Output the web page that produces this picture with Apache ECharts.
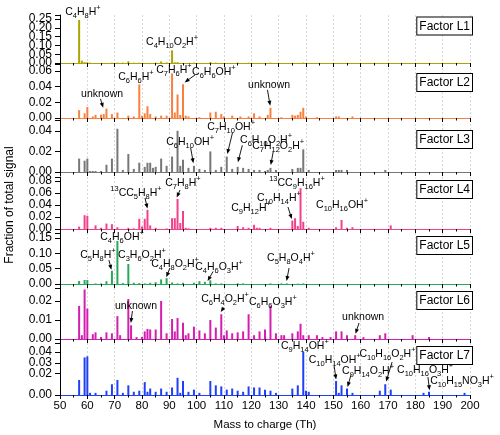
<!DOCTYPE html>
<html><head><meta charset="utf-8">
<script src="https://cdn.jsdelivr.net/npm/echarts@6/dist/echarts.min.js"></script>
<style>html,body{margin:0;padding:0;background:#fff}#c{width:500px;height:435px}</style>
</head><body><div id="c"></div>
<script>
// ---- data: [mass-to-charge, fraction of total signal] ----
const factorNames = ['Factor L1','Factor L2','Factor L3','Factor L4','Factor L5','Factor L6','Factor L7'];
const L1 = [[57,0.245],[58,0.013],[59,0.005],[60,0.004],[61,0.002],[69,0.002],[71,0.002],[73,0.002],[75,0.010],[77,0.002],[79,0.002],[85,0.002],[87,0.009],[89,0.003],[91,0.072],[92,0.004],[93,0.005],[99,0.002],[105,0.005],[107,0.002],[115,0.002],[119,0.002],[127,0.002],[139,0.002]];
const L2 = [[57,0.010],[59,0.006],[60,0.014],[62,0.002],[63,0.004],[65,0.004],[66,0.005],[67,0.012],[69,0.005],[71,0.007],[75,0.003],[77,0.002],[79,0.043],[80,0.003],[81,0.006],[82,0.015],[83,0.005],[85,0.002],[87,0.003],[89,0.003],[91,0.057],[92,0.007],[93,0.030],[94,0.004],[95,0.043],[96,0.003],[97,0.002],[101,0.001],[105,0.007],[107,0.008],[109,0.005],[110,0.002],[113,0.003],[116,0.002],[119,0.002],[121,0.006],[123,0.002],[126,0.004],[127,0.013],[131,0.001],[135,0.004],[136,0.003],[137,0.004],[138,0.008],[139,0.013],[140,0.002],[144,0.001],[151,0.002],[152,0.002],[157,0.002]];
const L3 = [[57,0.013],[59,0.011],[60,0.013],[61,0.001],[62,0.001],[63,0.001],[65,0.001],[67,0.007],[69,0.013],[71,0.042],[73,0.002],[75,0.0175],[77,0.003],[79,0.009],[81,0.005],[82,0.009],[83,0.009],[84,0.004],[85,0.005],[87,0.013],[89,0.006],[91,0.015],[93,0.040],[94,0.006],[95,0.012],[97,0.004],[99,0.006],[101,0.003],[103,0.002],[105,0.020],[107,0.002],[109,0.005],[111,0.015],[113,0.003],[115,0.005],[117,0.004],[119,0.003],[121,0.002],[123,0.002],[125,0.001],[126,0.002],[127,0.004],[129,0.002],[135,0.003],[137,0.004],[138,0.004],[139,0.022],[141,0.002],[151,0.002],[152,0.002],[153,0.002],[155,0.002],[169,0.002]];
const L4 = [[57,0.004],[59,0.023],[60,0.022],[63,0.006],[65,0.002],[67,0.009],[69,0.008],[71,0.003],[75,0.002],[77,0.001],[79,0.017],[80,0.004],[81,0.017],[82,0.032],[83,0.006],[85,0.002],[89,0.001],[91,0.018],[92,0.018],[93,0.050],[94,0.010],[95,0.030],[96,0.002],[97,0.001],[105,0.002],[107,0.002],[109,0.002],[115,0.005],[117,0.003],[119,0.002],[121,0.007],[122,0.002],[123,0.002],[127,0.002],[135,0.014],[136,0.018],[137,0.005],[138,0.068],[139,0.012],[141,0.002],[151,0.003],[153,0.015],[155,0.002],[157,0.003],[171,0.006]];
const L5 = [[57,0.010],[59,0.013],[60,0.013],[63,0.002],[65,0.002],[67,0.009],[69,0.043],[71,0.140],[73,0.003],[75,0.065],[77,0.004],[79,0.003],[81,0.002],[83,0.004],[85,0.006],[87,0.015],[89,0.019],[91,0.005],[93,0.002],[95,0.004],[99,0.004],[101,0.009],[103,0.007],[105,0.012],[107,0.002],[109,0.002],[115,0.002],[117,0.002],[127,0.002],[131,0.002],[133,0.002],[137,0.001],[139,0.002]];
const L6 = [[57,0.0174],[58,0.002],[59,0.026],[60,0.016],[62,0.0025],[63,0.0035],[65,0.001],[67,0.0035],[69,0.003],[71,0.012],[72,0.002],[75,0.021],[76,0.0072],[78,0.001],[80,0.001],[81,0.004],[82,0.0053],[83,0.005],[85,0.005],[87,0.020],[89,0.003],[91,0.0105],[92,0.004],[93,0.011],[95,0.0085],[96,0.002],[97,0.003],[99,0.0065],[101,0.0045],[103,0.003],[105,0.010],[107,0.006],[109,0.013],[110,0.002],[111,0.0045],[113,0.003],[115,0.0035],[117,0.004],[119,0.013],[121,0.002],[123,0.004],[125,0.005],[127,0.0175],[129,0.003],[131,0.002],[132,0.002],[135,0.003],[137,0.004],[138,0.008],[139,0.002],[141,0.002],[144,0.002],[146,0.001],[149,0.001],[151,0.004],[153,0.004],[155,0.002],[158,0.002],[161,0.001],[167,0.002],[169,0.003],[179,0.002],[185,0.001]];
const L7 = [[57,0.014],[59,0.035],[60,0.036],[61,0.002],[63,0.002],[67,0.004],[69,0.010],[71,0.014],[73,0.002],[75,0.009],[77,0.003],[79,0.004],[81,0.012],[82,0.003],[83,0.006],[85,0.003],[87,0.006],[89,0.003],[91,0.007],[93,0.016],[94,0.002],[95,0.013],[97,0.003],[99,0.005],[101,0.002],[105,0.013],[107,0.009],[109,0.008],[111,0.005],[113,0.006],[115,0.004],[117,0.003],[119,0.008],[121,0.007],[123,0.007],[125,0.005],[127,0.004],[129,0.002],[135,0.006],[137,0.009],[139,0.040],[140,0.004],[141,0.003],[151,0.013],[152,0.002],[153,0.009],[155,0.006],[157,0.002],[167,0.004],[169,0.010],[171,0.005],[183,0.002],[185,0.003],[198,0.002]];
const panels = [L1,L2,L3,L4,L5,L6,L7];
const yMax  = [0.273, 0.069, 0.0505, 0.0867, 0.166, 0.0268, 0.0484];
const yStep = [0.05, 0.02, 0.02, 0.02, 0.05, 0.01, 0.01];
// annotations: [panel, formula, text m/z, text value, arrow [m1,v1,m2,v2] or null]
const annotations = [
 [0,'C_4H_8H^+',58.4,0.290,null],
 [0,'C_4H_10O_2H^+',91.0,0.119,null],
 [1,'C_6H_6H^+',77.8,0.0524,null],
 [1,'C_7H_6H^+',91.7,0.0613,null],
 [1,'C_6H_6OH^+',106.3,0.0588,[99.4,0.055,95.6,0.0455]],
 [1,'unknown',65.4,0.0307,[64.8,0.0245,65.8,0.013]],
 [1,'unknown',126.5,0.042,[125.9,0.036,126.9,0.0155]],
 [2,'C_7H_10OH^+',112.6,0.0437,[113.1,0.038,111.2,0.0175]],
 [2,'C_6H_10OH^+',97.6,0.029,[97.8,0.0235,98.8,0.0085]],
 [2,'C_6H_10O_2H^+',125.4,0.031,[116.7,0.026,115.1,0.0095]],
 [2,'C_7H_12O_2H^+',129.8,0.0252,[128.0,0.0195,127.1,0.0068]],
 [3,'^13CC_5H_8H^+',77.8,0.060,[81.1,0.0517,82.0,0.034]],
 [3,'C_7H_8H^+',95.0,0.0767,[93.9,0.065,92.7,0.0525]],
 [3,'C_9H_12H^+',119.9,0.035,null],
 [3,'C_10H_14H^+',130.1,0.0517,[133.4,0.0367,134.8,0.0165]],
 [3,'^13CC_9H_16H^+',136.7,0.0767,null],
 [3,'C_10H_16OH^+',153.2,0.040,null],
 [4,'C_4H_6OH^+',72.7,0.153,null],
 [4,'C_5H_8H^+',63.9,0.0945,[67.9,0.078,68.8,0.046]],
 [4,'C_3H_6O_2H^+',80.0,0.0945,null],
 [4,'C_4H_8O_2H^+',92.1,0.065,[90.2,0.052,88.9,0.022]],
 [4,'C_4H_6O_3H^+',108.2,0.055,[106.0,0.0407,104.0,0.0098]],
 [4,'C_5H_8O_4H^+',134.5,0.0847,[133.8,0.052,132.9,0.0098]],
 [5,'unknown',77.8,0.0173,[76.5,0.0147,75.9,0.0084]],
 [5,'C_6H_4O_2H^+',110.4,0.021,[109.9,0.0165,108.8,0.0142]],
 [5,'C_6H_6O_3H^+',127.9,0.0194,null],
 [5,'unknown',160.9,0.0116,[159.4,0.0084,158.1,0.0027]],
 [6,'C_9H_14OH^+',139.6,0.0456,null],
 [6,'C_10H_14OH^+',150.5,0.0326,[150.3,0.027,151,0.0145]],
 [6,'C_10H_16O_2H^+',169.8,0.038,[171.5,0.0307,169.3,0.0125]],
 [6,'C_9H_14O_2H^+',162.7,0.0223,[156.5,0.019,155.2,0.0075]],
 [6,'C_10H_16O_3H^+',183.6,0.0233,[184.6,0.0167,185.2,0.0045]],
 [6,'C_10H_15NO_3H^+',197.1,0.013,null]
];

// ---- layout / style ----
const FONT = '"Liberation Sans", Arial, sans-serif';
const colors = ['#aca400','#f8803f','#777777','#f2418b','#27a85a','#d21fb0','#2040f5'];
const gridTop = [15,64,120,177,233,288,343];
const gridBottom = [63,118,172,229,284,339,395];
const boxTop = [17.5,74,131,181,237,292,347];
const LABEL_MARGIN = 8;

const chart = echarts.init(document.getElementById('c'), null, {renderer:'canvas', width:500, height:435});
const fmt = i => v => { const k = v / yStep[i]; return Math.abs(k - Math.round(k)) < 1e-6 ? v.toFixed(2) : ''; };
const option = {
  animation:false,
  backgroundColor:'#fff',
  grid: panels.map((_, i) => ({left:60, right:30, top:gridTop[i], height:gridBottom[i]-gridTop[i]})),
  xAxis: panels.map((_, i) => ({
    gridIndex:i, type:'value', min:50, max:200, interval:10,
    axisLine:{show:true, onZero:false, lineStyle:{color:colors[i], width:1}},
    axisTick:{show:true, length:4, lineStyle:{color:'#000'}},
    minorTick:{show:true, splitNumber:2, length:2.5, lineStyle:{color:'#000'}},
    splitLine:{show:true, lineStyle:{color:'#d8d8d8', type:[2,2], width:1}},
    axisLabel:{show:i===6, fontSize:11.5, color:'#000', margin:5, fontFamily:FONT}
  })),
  yAxis: panels.map((_, i) => ({
    gridIndex:i, type:'value', min:0, max:yMax[i], interval:yStep[i],
    axisLine:{show:true, onZero:false, lineStyle:{color:'#000'}},
    axisTick:{show:true, length:5, lineStyle:{color:'#000'}},
    splitLine:{show:false},
    axisLabel:{show:i!==0, showMinLabel:true, fontSize:12, color:'#000', margin:LABEL_MARGIN, fontFamily:FONT, formatter:fmt(i)}
  })),
  series: panels.map((d, i) => ({
    type:'bar', xAxisIndex:i, yAxisIndex:i, data:d, barWidth:2,
    itemStyle:{color:colors[i]}, silent:true
  }))
};
chart.setOption(option);

function toRich(s) {
  return s.replace(/_(\d+)/g, '{b|$1}').replace(/\^(\d+|\+)/g, '{p|$1}');
}
const RICH = {
  b:{fontSize:7.5, fontFamily:FONT, verticalAlign:'bottom', lineHeight:8, fill:'#000'},
  p:{fontSize:7.5, fontFamily:FONT, verticalAlign:'top', lineHeight:8, fill:'#000'}
};
const g = [];
// tick labels of the densely packed top panel, placed through its own y axis
for (let k = 0; k * yStep[0] <= yMax[0] + 1e-9; k++) {
  const v = +(k * yStep[0]).toFixed(4);
  const p = chart.convertToPixel({gridIndex:0}, [50, v]);
  g.push({type:'text', style:{text:v.toFixed(2), x:p[0]-LABEL_MARGIN, y:p[1], align:'right', verticalAlign:'middle', fontSize:12, fontFamily:FONT, fill:'#000'}});
}
annotations.forEach(a => {
  const [pi, txt, tm, tv, arr] = a;
  const p = chart.convertToPixel({gridIndex:pi}, [tm, tv]);
  g.push({type:'text', z:100, style:{text:toRich(txt), x:p[0], y:p[1], align:'center', verticalAlign:'middle',
    fontSize:10.5, fontFamily:FONT, fill:'#000', lineHeight:16, rich:RICH}});
  if (arr) {
    const p1 = chart.convertToPixel({gridIndex:pi}, [arr[0], arr[1]]);
    const p2 = chart.convertToPixel({gridIndex:pi}, [arr[2], arr[3]]);
    const dx = p2[0]-p1[0], dy = p2[1]-p1[1], L = Math.hypot(dx, dy) || 1;
    const ux = dx/L, uy = dy/L, nx = -uy, ny = ux, hl = 5, hw = 2;
    if (L > hl) g.push({type:'line', z:100, shape:{x1:p1[0], y1:p1[1], x2:p2[0]-ux*(hl-1), y2:p2[1]-uy*(hl-1)}, style:{stroke:'#000', lineWidth:0.9}});
    g.push({type:'polygon', z:100, shape:{points:[[p2[0],p2[1]],[p2[0]-ux*hl+nx*hw,p2[1]-uy*hl+ny*hw],[p2[0]-ux*hl-nx*hw,p2[1]-uy*hl-ny*hw]]}, style:{fill:'#000'}});
  }
});
factorNames.forEach((n, i) => {
  g.push({type:'text', z:100, style:{text:n, x:472, y:boxTop[i], align:'right', verticalAlign:'top',
    fontSize:12, fontFamily:FONT, fill:'#000', backgroundColor:'#fff', borderColor:'#000', borderWidth:1, padding:[3,2,2,2]}});
});
g.push({type:'text', x:10, y:205, rotation:Math.PI/2, style:{text:'Fraction of total signal', x:0, y:0, align:'center', verticalAlign:'middle', fontSize:12, fontFamily:FONT, fill:'#000'}});
g.push({type:'text', style:{text:'Mass to charge (Th)', x:265, y:425, align:'center', verticalAlign:'middle', fontSize:11.5, fontFamily:FONT, fill:'#000'}});
chart.setOption({graphic:g});
</script></body></html>
